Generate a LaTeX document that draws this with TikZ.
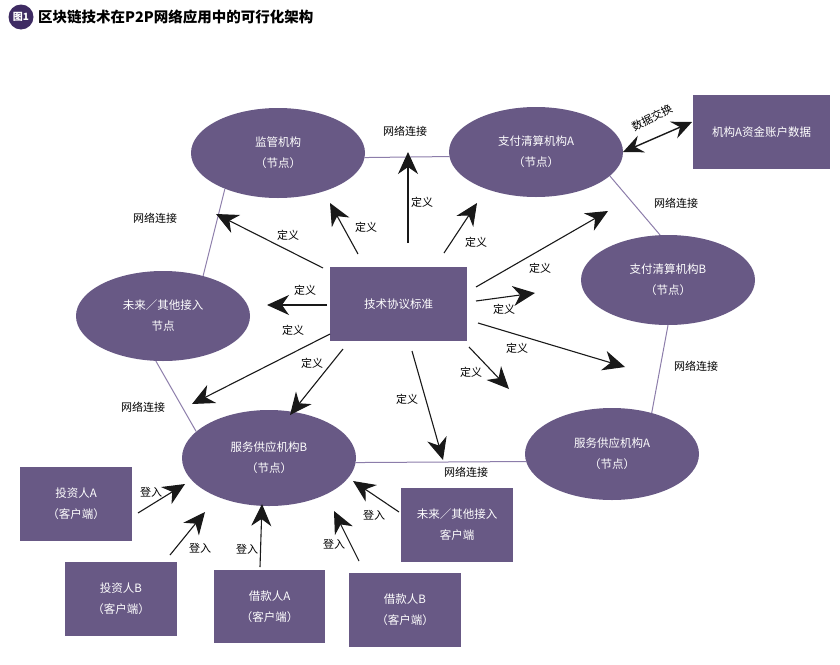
\documentclass[tikz,border=0pt]{standalone}
\usepackage{fontspec}
\setmainfont{Noto Sans CJK SC}
\usetikzlibrary{shapes.geometric,arrows.meta}
\definecolor{nodefill}{HTML}{685985}
\definecolor{netline}{HTML}{8C7DAA}
\definecolor{badge}{HTML}{3E2B63}
\begin{document}
\begin{tikzpicture}[x=1pt,y=-1pt,
  ell/.style={ellipse, fill=nodefill, text=white, minimum width=174pt, minimum height=90pt, inner sep=0pt, align=center, font=\fontsize{11.5}{21}\selectfont},
  boxn/.style={rectangle, fill=nodefill, text=white, inner sep=0pt, align=center, font=\fontsize{11.5}{21}\selectfont},
  lbl/.style={font=\fontsize{11}{13}\selectfont, text=black, inner sep=0pt},
  defarrow/.style={draw=black!90, line width=1.1pt, -{Stealth[length=22pt,width=20pt,inset=7pt]}},
  dblarrow/.style={draw=black!90, line width=1.4pt, {Stealth[length=20pt,width=18pt,inset=7pt]}-{Stealth[length=20pt,width=18pt,inset=7pt]}},
  netln/.style={draw=netline, line width=1pt}]
\useasboundingbox (0,0) rectangle (840,664);
% title
\node[circle, fill=badge, minimum size=25pt, inner sep=0pt, text=white, font=\fontsize{10}{10}\selectfont\bfseries] (badge) at (21,17) {图1};
\node[anchor=west, inner sep=0pt, font=\fontsize{14.5}{16}\selectfont\bfseries] (title) at (38,17) {区块链技术在P2P网络应用中的可行化架构};
% ellipses
\node[ell] (jg) at (278,153) {监管机构\\（节点）};
\node[ell] (zfA) at (536,152) {支付清算机构A\\（节点）};
\node[ell] (zfB) at (668,280) {支付清算机构B\\（节点）};
\node[ell] (wl) at (163,316) {未来／其他接入\\节点};
\node[ell, minimum height=96pt] (fwB) at (269,458) {服务供应机构B\\（节点）};
\node[ell, minimum height=92pt] (fwA) at (612,454) {服务供应机构A\\（节点）};
% boxes
\node[boxn, minimum width=137pt, minimum height=74pt] (data) at (761.5,132) {机构A资金账户数据};
\node[boxn, minimum width=137pt, minimum height=74pt] (tech) at (398.5,304) {技术协议标准};
\node[boxn, minimum width=112pt, minimum height=74pt] (tzA) at (76,504) {投资人A\\（客户端）};
\node[boxn, minimum width=112pt, minimum height=74pt] (tzB) at (121,599) {投资人B\\（客户端）};
\node[boxn, minimum width=111pt, minimum height=73pt] (jkA) at (269.5,606.5) {借款人A\\（客户端）};
\node[boxn, minimum width=112pt, minimum height=74pt] (jkB) at (405,610) {借款人B\\（客户端）};
\node[boxn, minimum width=112pt, minimum height=74pt] (wlc) at (457,525) {未来／其他接入\\客户端};
% network links
\draw[netln] (jg.-3) -- (zfA.183);
\draw[netln] (zfA.-18) -- (zfB.100);
\draw[netln] (zfB.-90) -- (fwA.46);
\draw[netln] (fwA.185) -- (fwB.-3);
\draw[netln] (fwB.160) -- (wl.-99);
\draw[netln] (wl.45) -- (jg.214);
\node[lbl] (n1) at (405,131) {网络连接};
\node[lbl] (n2) at (676,203) {网络连接};
\node[lbl] (n3) at (696,366) {网络连接};
\node[lbl] (n4) at (466,472) {网络连接};
\node[lbl] (n5) at (143,407) {网络连接};
\node[lbl] (n6) at (155,218) {网络连接};
% data exchange
\coordinate (dxa) at (623,152);
\coordinate (dxb) at (692,122);
\draw[dblarrow] (dxa) -- (dxb);
\node[lbl, rotate=27] (dxl) at (652,118) {数据交换};
% definition arrows
\coordinate (s1) at (323,268); \coordinate (e1) at (216,214);
\coordinate (s2) at (358,254); \coordinate (e2) at (330,203);
\coordinate (s3) at (408,243); \coordinate (e3) at (408,152);
\coordinate (s4) at (444,253); \coordinate (e4) at (477,203);
\coordinate (s5) at (476,287); \coordinate (e5) at (608,211);
\coordinate (s6) at (476,301); \coordinate (e6) at (535,293);
\coordinate (s7) at (478,323); \coordinate (e7) at (625,367);
\coordinate (s8) at (469,347); \coordinate (e8) at (509,389);
\coordinate (s9) at (412,351); \coordinate (e9) at (443,460);
\coordinate (s10) at (327,305); \coordinate (e10) at (267,305);
\coordinate (s11) at (330,334); \coordinate (e11) at (192,404);
\coordinate (s12) at (343,349); \coordinate (e12) at (290,415);
\foreach \i in {1,...,12} {\draw[defarrow] (s\i) -- (e\i);}
\node[lbl] (d1) at (288,235) {定义};
\node[lbl] (d2) at (366,227) {定义};
\node[lbl] (d3) at (422,202) {定义};
\node[lbl] (d4) at (476,242) {定义};
\node[lbl] (d5) at (540,268) {定义};
\node[lbl] (d6) at (504,309) {定义};
\node[lbl] (d7) at (517,348) {定义};
\node[lbl] (d8) at (471,372) {定义};
\node[lbl] (d9) at (407,399) {定义};
\node[lbl] (d10) at (305,290) {定义};
\node[lbl] (d11) at (293,330) {定义};
\node[lbl] (d12) at (312,363) {定义};
% login arrows
\coordinate (l1s) at (138,513); \coordinate (l1e) at (185,484);
\coordinate (l2s) at (170,555); \coordinate (l2e) at (205,512);
\coordinate (l3s) at (260,567); \coordinate (l3e) at (262,504);
\coordinate (l4s) at (359,561); \coordinate (l4e) at (334,511);
\coordinate (l5s) at (399,512); \coordinate (l5e) at (353,481);
\foreach \i in {1,...,5} {\draw[defarrow] (l\i s) -- (l\i e);}
\node[lbl] (g1) at (151,492) {登入};
\node[lbl] (g2) at (200,548) {登入};
\node[lbl] (g3) at (247,549) {登入};
\node[lbl] (g4) at (334,544) {登入};
\node[lbl] (g5) at (374,515) {登入};
\end{tikzpicture}
\end{document}
